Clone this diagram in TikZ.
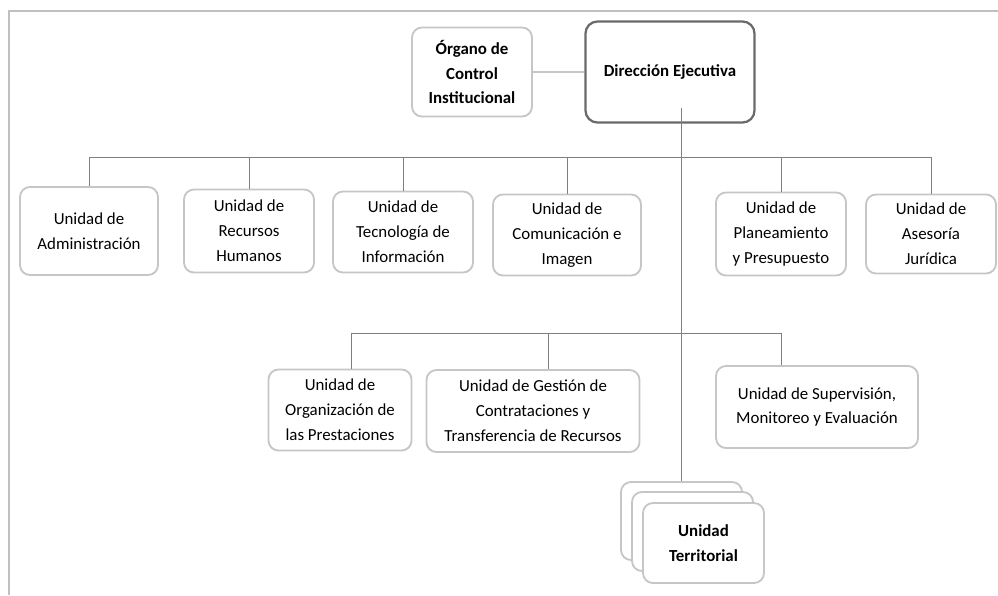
\documentclass[tikz,border=0pt]{standalone}
\usepackage{fontspec}
\setmainfont{Carlito}
\usepackage{tikz}
\usetikzlibrary{positioning,calc}
\definecolor{boxgray}{HTML}{C6C6C6}
\definecolor{linegray}{HTML}{7F7F7F}
\definecolor{dirgray}{HTML}{6A6A6A}
\definecolor{framegray}{HTML}{C0C0C0}
\newcommand\unitfont{\fontsize{12}{17.7}\selectfont}
\tikzset{
  unitbox/.style={rectangle, rounded corners=0.25cm, draw=boxgray, line width=1.3pt, fill=white, align=center, inner sep=0pt, font=\unitfont},
  link/.style={draw=linegray, line width=0.7pt}
}

\begin{document}
\begin{tikzpicture}[x=0.025cm,y=-0.025cm]
\useasboundingbox (0,0) rectangle (998,595);
\draw [framegray, line width=1.5pt] (9,595) -- (9,11) -- (998,11);

\node (org) [unitbox, minimum width=3cm, minimum height=2.225cm, font=\unitfont\bfseries] at (472,72) {Órgano de\\Control\\Institucional};
\node (dir) [unitbox, draw=dirgray, line width=1.6pt, rounded corners=0.3cm, minimum width=4.225cm, minimum height=2.525cm, font=\unitfont\bfseries] at (670,72) {Dirección Ejecutiva};

\node (adm) [unitbox, minimum width=3.45cm, minimum height=2.2cm] at (89,231) {Unidad de\\Administración};
\node (rrhh) [unitbox, minimum width=3.25cm, minimum height=2.075cm] at (249,231) {Unidad de\\Recursos\\Humanos};
\node (tec) [unitbox, minimum width=3.5cm, minimum height=2.025cm] at (403,232) {Unidad de\\Tecnología de\\Información};
\node (com) [unitbox, minimum width=3.7cm, minimum height=2.025cm] at (567,235) {Unidad de\\Comunicación e\\Imagen};
\node (pla) [unitbox, minimum width=3.25cm, minimum height=2.075cm] at (781,234) {Unidad de\\Planeamiento\\y Presupuesto};
\node (ase) [unitbox, minimum width=3.25cm, minimum height=1.975cm] at (931,234) {Unidad de\\Asesoría\\Jurídica};

\node (orgp) [unitbox, minimum width=3.575cm, minimum height=2.025cm] at (340,410) {Unidad de\\Organización de\\las Prestaciones};
\node (ges) [unitbox, minimum width=5.325cm, minimum height=2.05cm] at (533,411) {Unidad de Gestión de\\Contrataciones y\\Transferencia de Recursos};
\node (sup) [unitbox, minimum width=5.05cm, minimum height=2.05cm] at (817,407) {Unidad de Supervisión,\\Monitoreo y Evaluación};

\node (ter3) [unitbox, minimum width=3.025cm, minimum height=1.95cm] at (681.5,521) {};
\node (ter2) [unitbox, minimum width=3.025cm, minimum height=1.975cm] at (692.5,531.5) {};
\node (ter) [unitbox, minimum width=3.025cm, minimum height=2cm, font=\unitfont\bfseries] at (703.5,543) {Unidad\\Territorial};

\draw [link, draw=boxgray, line width=1pt] (org) -- (dir);

\coordinate (trunk) at (681,108);
\draw [link] (trunk) -- (trunk |- ter3.north);

\coordinate (busA) at (89,157);
\coordinate (busB) at (931,157);
\draw [link] (busA) -- (busB);
\foreach \n in {adm,rrhh,tec,com,pla,ase}
  \draw [link] (\n.north |- busA) -- (\n.north);

\coordinate (d1) at (351,333);
\coordinate (d2) at (548,333);
\coordinate (d3) at (781,333);
\draw [link] (d1) -- (d3);
\draw [link] (d1) -- (d1 |- orgp.north);
\draw [link] (d2) -- (d2 |- ges.north);
\draw [link] (d3) -- (d3 |- sup.north);
\end{tikzpicture}
\end{document}
